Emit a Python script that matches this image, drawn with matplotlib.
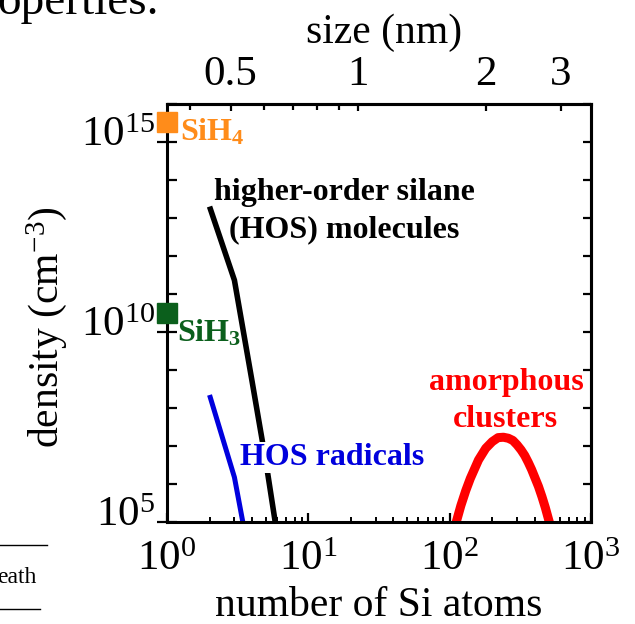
import numpy as np
import matplotlib
matplotlib.use("Agg")
import matplotlib.pyplot as plt
from matplotlib.lines import Line2D
from matplotlib.ticker import LogLocator, NullFormatter
from matplotlib.transforms import ScaledTranslation

plt.rcParams['font.family'] = ['Liberation Serif', 'DejaVu Serif']
plt.rcParams['mathtext.fontset'] = 'custom'
plt.rcParams['mathtext.rm'] = 'Liberation Serif'
plt.rcParams['mathtext.it'] = 'Liberation Serif:italic'
plt.rcParams['mathtext.bf'] = 'Liberation Serif:bold'

# monomer species (x = 1 Si atom)
species_labels = [r'SiH$_{\mathbf{4}}$', r'SiH$_{\mathbf{3}}$']
species_n = [1, 1]
species_dens = [3.4e15, 3.2e10]
species_colors = ['#FF8C1A', '#0B5F1C']

# higher-order silane molecules
hos_mol_n = [2, 3, 4, 5, 6]
hos_mol_dens = [2.0e13, 2.3e11, 5.0e8, 4.0e6, 5.0e4]

# higher-order silane radicals
hos_rad_n = [2, 3, 4]
hos_rad_dens = [2.2e8, 1.5e6, 5.0e3]

# amorphous clusters
clus_n = [105, 110, 120, 130, 140, 160, 180, 200, 220, 240, 260, 280, 300,
          320, 340, 360, 380, 400, 425, 450, 475, 500, 520]
clus_dens = [4.5e4, 8.5e4, 2.7e5, 6.7e5, 1.4e6, 4.3e6, 8.7e6, 1.3e7, 1.66e7,
             1.7e7, 1.6e7, 1.4e7, 1.07e7, 7.9e6, 5.6e6, 3.7e6, 2.4e6, 1.5e6,
             8.6e5, 4.6e5, 2.4e5, 1.2e5, 7.2e4]

# top axis: cluster size (nm)
atoms_per_nm3 = 22.6
size_major = [0.5, 1, 2, 3]
size_minor = [0.4, 0.6, 0.7, 0.8, 0.9]


def n_to_size(n):
    return (np.asarray(n, dtype=float) / atoms_per_nm3) ** (1.0 / 3.0)


def size_to_n(d):
    return atoms_per_nm3 * np.asarray(d, dtype=float) ** 3


fig = plt.figure(figsize=(6.35, 6.24), dpi=100)
ax = fig.add_axes([167 / 635, 1 - 522 / 624, 424 / 635, 418 / 624])

ax.plot(hos_mol_n, hos_mol_dens, color='black', lw=4, solid_capstyle='butt')
ax.plot(hos_rad_n, hos_rad_dens, color='#0000DD', lw=3.6, solid_capstyle='butt')
ax.plot(clus_n, clus_dens, color='#FF0000', lw=6.5, solid_capstyle='butt')
for n, d, c in zip(species_n, species_dens, species_colors):
    ax.plot(n, d, marker='s', ms=14.5, color=c, mec=c, clip_on=False, zorder=5)

ax.set_xscale('log')
ax.set_yscale('log')
ax.set_xlim(1, 1e3)
ax.set_ylim(1e5, 1e16)

# annotations
ax.text(1.24, 1.1e15, species_labels[0], color=species_colors[0],
        fontsize=23, fontweight='bold', ha='left', va='baseline')
ax.text(1.18, 5.5e9, species_labels[1], color=species_colors[1],
        fontsize=23, fontweight='bold', ha='left', va='baseline')
ax.text(18, 1.5e13, 'higher-order silane\n(HOS) molecules', color='black',
        fontsize=23, fontweight='bold', ha='center', va='center', linespacing=1.35)
ax.text(3.3, 3.2e6, 'HOS radicals', color='#0000DD', zorder=4,
        fontsize=23, fontweight='bold', ha='left', va='baseline',
        bbox=dict(facecolor='white', edgecolor='none', pad=1))
ax.text(250, 3.2e7, 'amorphous\nclusters', color='#FF0000',
        fontsize=23, fontweight='bold', ha='center', va='baseline', linespacing=1.35)

# axes styling
for sp in ax.spines.values():
    sp.set_linewidth(2.2)

ax.xaxis.set_major_locator(LogLocator(base=10, numticks=10))
ax.xaxis.set_minor_locator(LogLocator(base=10, subs=np.arange(2, 10), numticks=10))
ax.xaxis.set_minor_formatter(NullFormatter())
ax.tick_params(axis='x', which='major', direction='in', length=6.5, width=1.6,
               labelsize=31, pad=13.5, top=False)
ax.tick_params(axis='x', which='minor', direction='in', length=3.5, width=1.4, top=False)

ax.set_yticks([1e5, 1e10, 1e15])
ax.yaxis.set_minor_locator(LogLocator(base=10, subs=[1.0], numticks=20))
ax.yaxis.set_minor_formatter(NullFormatter())
ax.tick_params(axis='y', which='major', direction='inout', length=14, width=1.6,
               labelsize=31, pad=1.5, right=False)
ax.tick_params(axis='y', which='minor', direction='in', length=7, width=1.6, right=False)
# the y labels sit a little above their ticks in the original
shift_up = ScaledTranslation(0, 11 / 100, fig.dpi_scale_trans)
for lbl in ax.get_yticklabels():
    lbl.set_transform(lbl.get_transform() + shift_up)

ax.set_xlabel('number of Si atoms', fontsize=30)
ax.xaxis.set_label_coords(0.5, -0.155)
ax.set_ylabel(r'density (cm$^{-3}$)', fontsize=30)
ax.yaxis.set_label_coords(-0.232, 0.466)

# right side ticks
axr = ax.secondary_yaxis('right')
axr.yaxis.set_major_locator(LogLocator(base=10, subs=[1.0], numticks=20))
axr.yaxis.set_minor_locator(LogLocator(base=10, subs=[1.0], numticks=20))
axr.tick_params(axis='y', which='both', direction='in', length=6, width=1.6,
                labelright=False)
axr.spines['right'].set_linewidth(2.2)

# top size axis
axt = ax.secondary_xaxis('top', functions=(n_to_size, size_to_n))
axt.set_xticks(size_major, labels=['0.5', '1', '2', '3'])
axt.set_xticks(size_minor, minor=True)
axt.xaxis.set_minor_formatter(NullFormatter())
axt.tick_params(axis='x', which='major', direction='in', length=5, width=1.6,
                labelsize=31, pad=7)
axt.tick_params(axis='x', which='minor', direction='in', length=4, width=1.6)
axt.spines['top'].set_linewidth(2.2)
axt.set_xlabel('size (nm)', fontsize=30, labelpad=9)
axt.xaxis.label.set_x(0.513)

# fragments of the surrounding page
fig.text(-0.004, 1 - 14 / 624, 'operties.', fontsize=34, ha='left', va='baseline')
fig.text(-0.004, 1 - 583 / 624, 'eath', fontsize=17, ha='left', va='baseline')
fig.add_artist(Line2D([0, 47 / 635], [1 - 545 / 624] * 2, transform=fig.transFigure,
                      color='black', lw=1))
fig.add_artist(Line2D([0, 40 / 635], [1 - 609 / 624] * 2, transform=fig.transFigure,
                      color='black', lw=1))

fig.savefig('out.png', dpi=100)
